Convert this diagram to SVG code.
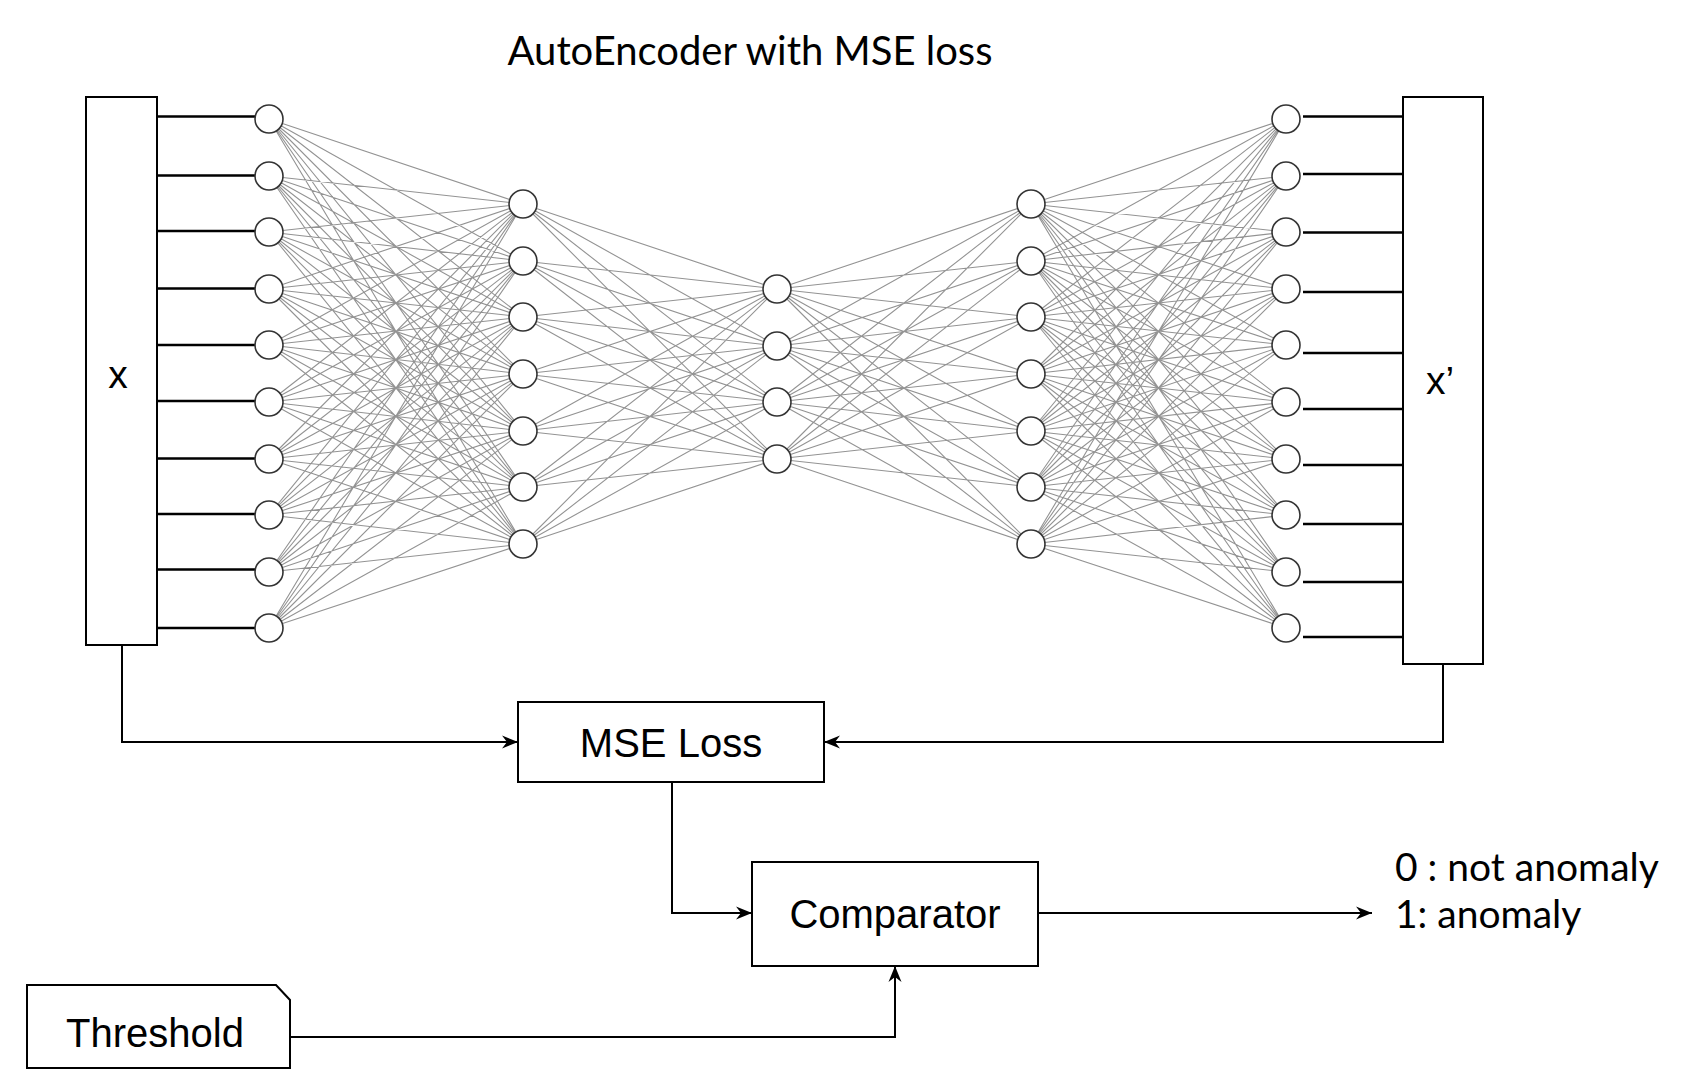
<svg xmlns="http://www.w3.org/2000/svg" width="1700" height="1088" viewBox="0 0 1700 1088">
<style>
.box{fill:#fff;stroke:#000;stroke-width:2}
.neu{fill:#fff;stroke:#333;stroke-width:1.6}
.w{fill:none;stroke:#939393;stroke-width:1.1}
.io{fill:none;stroke:#000;stroke-width:2.4}
.c{fill:none;stroke:#000;stroke-width:2}
.sans{font-family:"Liberation Sans",Arial,sans-serif;fill:#000}
.lato{font-family:Lato,"Liberation Sans",sans-serif;fill:#000}
</style>
<defs>
<marker id="ah" markerUnits="userSpaceOnUse" markerWidth="20" markerHeight="16" viewBox="-18 -8 20 16" refX="0" refY="0" orient="auto">
<path d="M0 0L-16 -6.5L-11 0L-16 6.5Z" fill="#000"/>
</marker>
</defs>
<rect width="1700" height="1088" fill="#fff"/>
<text class="lato" x="750" y="65" font-size="40" text-anchor="middle">AutoEncoder with MSE loss</text>

<g id="connectors">
<g id="weights">
<path class="w" d="M269 119L523 204M269 119L523 261M269 119L523 317M269 119L523 374M269 119L523 431M269 119L523 487M269 119L523 544
M269 176L523 204M269 176L523 261M269 176L523 317M269 176L523 374M269 176L523 431M269 176L523 487M269 176L523 544
M269 232L523 204M269 232L523 261M269 232L523 317M269 232L523 374M269 232L523 431M269 232L523 487M269 232L523 544
M269 289L523 204M269 289L523 261M269 289L523 317M269 289L523 374M269 289L523 431M269 289L523 487M269 289L523 544
M269 345L523 204M269 345L523 261M269 345L523 317M269 345L523 374M269 345L523 431M269 345L523 487M269 345L523 544
M269 402L523 204M269 402L523 261M269 402L523 317M269 402L523 374M269 402L523 431M269 402L523 487M269 402L523 544
M269 459L523 204M269 459L523 261M269 459L523 317M269 459L523 374M269 459L523 431M269 459L523 487M269 459L523 544
M269 515L523 204M269 515L523 261M269 515L523 317M269 515L523 374M269 515L523 431M269 515L523 487M269 515L523 544
M269 572L523 204M269 572L523 261M269 572L523 317M269 572L523 374M269 572L523 431M269 572L523 487M269 572L523 544
M269 628L523 204M269 628L523 261M269 628L523 317M269 628L523 374M269 628L523 431M269 628L523 487M269 628L523 544"/>
<path class="w" d="M523 204L777 289M523 204L777 346M523 204L777 402M523 204L777 459
M523 261L777 289M523 261L777 346M523 261L777 402M523 261L777 459
M523 317L777 289M523 317L777 346M523 317L777 402M523 317L777 459
M523 374L777 289M523 374L777 346M523 374L777 402M523 374L777 459
M523 431L777 289M523 431L777 346M523 431L777 402M523 431L777 459
M523 487L777 289M523 487L777 346M523 487L777 402M523 487L777 459
M523 544L777 289M523 544L777 346M523 544L777 402M523 544L777 459"/>
<path class="w" d="M1031 204L777 289M1031 204L777 346M1031 204L777 402M1031 204L777 459
M1031 261L777 289M1031 261L777 346M1031 261L777 402M1031 261L777 459
M1031 317L777 289M1031 317L777 346M1031 317L777 402M1031 317L777 459
M1031 374L777 289M1031 374L777 346M1031 374L777 402M1031 374L777 459
M1031 431L777 289M1031 431L777 346M1031 431L777 402M1031 431L777 459
M1031 487L777 289M1031 487L777 346M1031 487L777 402M1031 487L777 459
M1031 544L777 289M1031 544L777 346M1031 544L777 402M1031 544L777 459"/>
<path class="w" d="M1286 119L1031 204M1286 119L1031 261M1286 119L1031 317M1286 119L1031 374M1286 119L1031 431M1286 119L1031 487M1286 119L1031 544
M1286 176L1031 204M1286 176L1031 261M1286 176L1031 317M1286 176L1031 374M1286 176L1031 431M1286 176L1031 487M1286 176L1031 544
M1286 232L1031 204M1286 232L1031 261M1286 232L1031 317M1286 232L1031 374M1286 232L1031 431M1286 232L1031 487M1286 232L1031 544
M1286 289L1031 204M1286 289L1031 261M1286 289L1031 317M1286 289L1031 374M1286 289L1031 431M1286 289L1031 487M1286 289L1031 544
M1286 345L1031 204M1286 345L1031 261M1286 345L1031 317M1286 345L1031 374M1286 345L1031 431M1286 345L1031 487M1286 345L1031 544
M1286 402L1031 204M1286 402L1031 261M1286 402L1031 317M1286 402L1031 374M1286 402L1031 431M1286 402L1031 487M1286 402L1031 544
M1286 459L1031 204M1286 459L1031 261M1286 459L1031 317M1286 459L1031 374M1286 459L1031 431M1286 459L1031 487M1286 459L1031 544
M1286 515L1031 204M1286 515L1031 261M1286 515L1031 317M1286 515L1031 374M1286 515L1031 431M1286 515L1031 487M1286 515L1031 544
M1286 572L1031 204M1286 572L1031 261M1286 572L1031 317M1286 572L1031 374M1286 572L1031 431M1286 572L1031 487M1286 572L1031 544
M1286 628L1031 204M1286 628L1031 261M1286 628L1031 317M1286 628L1031 374M1286 628L1031 431M1286 628L1031 487M1286 628L1031 544"/>
</g>
<path class="io" d="M157 116.5H255M157 175.5H255M157 231H255M157 288.5H255M157 345H255M157 401H255M157 458.5H255M157 514H255M157 569.5H255M157 628H255"/>
<path class="io" d="M1303 116.5H1403M1303 174H1403M1303 232.5H1403M1303 292H1403M1303 353H1403M1303 409H1403M1303 465H1403M1303 524H1403M1303 582H1403M1303 637H1403"/>
<path class="c" d="M122 645V742H518" marker-end="url(#ah)"/>
<path class="c" d="M1443 664V742H824" marker-end="url(#ah)"/>
<path class="c" d="M672 782V913H752" marker-end="url(#ah)"/>
<path class="c" d="M290 1037H895V966" marker-end="url(#ah)"/>
<path class="c" d="M1038 913H1372" marker-end="url(#ah)"/>
</g>

<g id="input-x">
<rect class="box" x="86" y="97" width="71" height="548"/>
<text class="sans" x="118" y="388" font-size="39" text-anchor="middle">x</text>
</g>
<g id="output-x-prime">
<rect class="box" x="1403" y="97" width="80" height="567"/>
<text class="sans" x="1440" y="394" font-size="39" text-anchor="middle">x’</text>
</g>

<g id="layer1">
<circle class="neu" cx="269" cy="119" r="14"/><circle class="neu" cx="269" cy="176" r="14"/><circle class="neu" cx="269" cy="232" r="14"/><circle class="neu" cx="269" cy="289" r="14"/><circle class="neu" cx="269" cy="345" r="14"/><circle class="neu" cx="269" cy="402" r="14"/><circle class="neu" cx="269" cy="459" r="14"/><circle class="neu" cx="269" cy="515" r="14"/><circle class="neu" cx="269" cy="572" r="14"/><circle class="neu" cx="269" cy="628" r="14"/>
</g>
<g id="layer2">
<circle class="neu" cx="523" cy="204" r="14"/><circle class="neu" cx="523" cy="261" r="14"/><circle class="neu" cx="523" cy="317" r="14"/><circle class="neu" cx="523" cy="374" r="14"/><circle class="neu" cx="523" cy="431" r="14"/><circle class="neu" cx="523" cy="487" r="14"/><circle class="neu" cx="523" cy="544" r="14"/>
</g>
<g id="layer3">
<circle class="neu" cx="777" cy="289" r="14"/><circle class="neu" cx="777" cy="346" r="14"/><circle class="neu" cx="777" cy="402" r="14"/><circle class="neu" cx="777" cy="459" r="14"/>
</g>
<g id="layer4">
<circle class="neu" cx="1031" cy="204" r="14"/><circle class="neu" cx="1031" cy="261" r="14"/><circle class="neu" cx="1031" cy="317" r="14"/><circle class="neu" cx="1031" cy="374" r="14"/><circle class="neu" cx="1031" cy="431" r="14"/><circle class="neu" cx="1031" cy="487" r="14"/><circle class="neu" cx="1031" cy="544" r="14"/>
</g>
<g id="layer5">
<circle class="neu" cx="1286" cy="119" r="14"/><circle class="neu" cx="1286" cy="176" r="14"/><circle class="neu" cx="1286" cy="232" r="14"/><circle class="neu" cx="1286" cy="289" r="14"/><circle class="neu" cx="1286" cy="345" r="14"/><circle class="neu" cx="1286" cy="402" r="14"/><circle class="neu" cx="1286" cy="459" r="14"/><circle class="neu" cx="1286" cy="515" r="14"/><circle class="neu" cx="1286" cy="572" r="14"/><circle class="neu" cx="1286" cy="628" r="14"/>
</g>

<g id="mse-loss">
<rect class="box" x="518" y="702" width="306" height="80"/>
<text class="sans" x="671" y="757" font-size="40" text-anchor="middle">MSE Loss</text>
</g>
<g id="comparator">
<rect class="box" x="752" y="862" width="286" height="104"/>
<text class="sans" x="895" y="928" font-size="40" text-anchor="middle">Comparator</text>
</g>
<g id="threshold">
<path class="box" d="M27 985H276L290 1000V1068H27Z"/>
<text class="sans" x="155" y="1047" font-size="40" text-anchor="middle">Threshold</text>
</g>
<g id="output-label">
<text class="lato" x="1395" y="881" font-size="39">0 : not anomaly</text>
<text class="lato" x="1395" y="928" font-size="39">1: anomaly</text>
</g>
</svg>
